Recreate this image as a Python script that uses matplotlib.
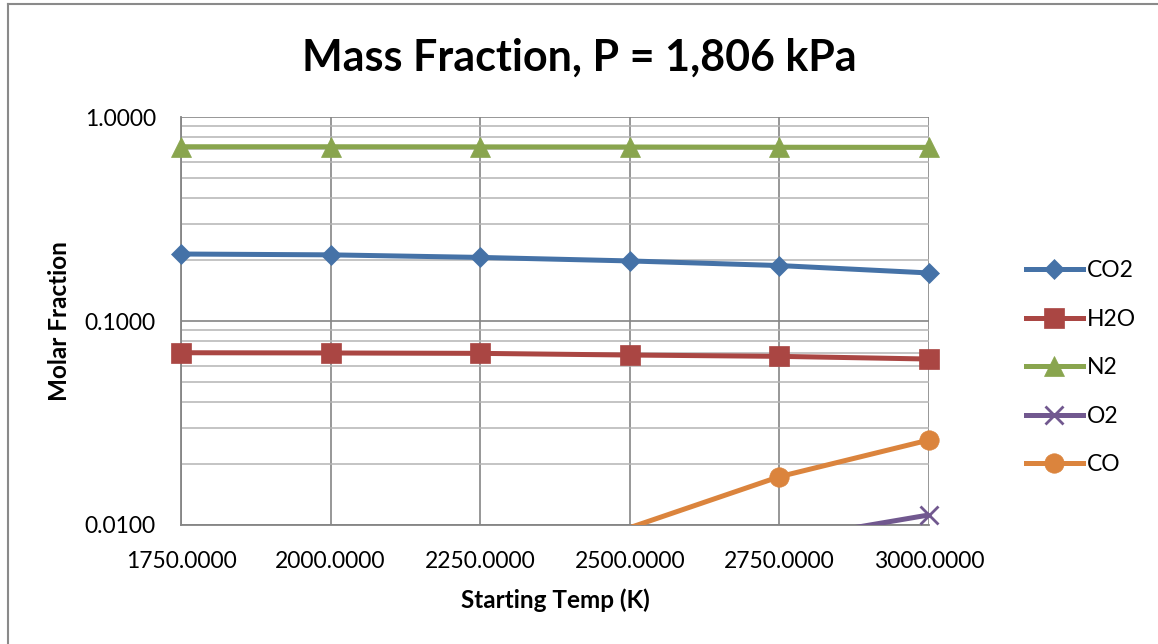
import numpy as np
import matplotlib
matplotlib.use("Agg")
import matplotlib.pyplot as plt
from matplotlib.lines import Line2D
from matplotlib.ticker import FixedLocator, LogLocator, NullFormatter

plt.rcParams['font.family'] = ['Lato', 'DejaVu Sans']

############################################################
#  data
############################################################
temps = [1750, 2000, 2250, 2500, 2750, 3000]
tick_labels = ["1750.0000", "2000.0000", "2250.0000", "2500.0000", "2750.0000", "3000.0000"]

co2 = [0.213, 0.211, 0.205, 0.197, 0.187, 0.172]
h2o = [0.0699, 0.0697, 0.0694, 0.0681, 0.0671, 0.0651]
n2 = [0.715, 0.715, 0.714, 0.713, 0.711, 0.710]
o2 = [0.0003, 0.0008, 0.0018, 0.0040, 0.0084, 0.0112]
co = [0.0012, 0.0027, 0.0055, 0.0097, 0.01725, 0.0261]

series_names = ["CO2", "H2O", "N2", "O2", "CO"]

#########################
# styles
#########################
colors = ["#4572A7", "#AA4643", "#89A54E", "#71588F", "#DB843D"]
markers = ["D", "s", "^", "x", "o"]
msizes = [10, 14, 14, 13, 14]

fig = plt.figure(figsize=(11.58, 6.44), dpi=100)
ax = fig.add_axes([0.1563, 0.1848, 0.8022 - 0.1563, 0.8183 - 0.1848])

ymin, ymax = 0.01, 1.0
handles = []
for name, vals, c, m, ms in zip(series_names, [co2, h2o, n2, o2, co], colors, markers, msizes):
    visible = [bool(ymin * 0.999 <= v <= ymax) for v in vals]
    mew = 2 if m == "x" else 0.5
    # line clipped to the plot area, markers only where the point is inside
    ax.plot(temps, vals, color=c, lw=3.6, zorder=3, clip_on=True)
    ax.plot(temps, vals, color=c, lw=0, marker=m, ms=ms, mew=mew,
            mec=c, mfc=c, markevery=visible, zorder=4, clip_on=False)
    handles.append(Line2D([], [], color=c, lw=3.6, marker=m, ms=ms, mew=mew, mec=c, mfc=c))

ax.set_yscale("log")
ax.set_ylim(ymin, ymax)
ax.set_xlim(temps[0], temps[-1])

ax.yaxis.set_major_locator(FixedLocator([0.01, 0.1, 1.0]))
ax.set_yticklabels(["0.0100", "0.1000", "1.0000"])
ax.yaxis.set_minor_locator(LogLocator(base=10, subs=np.arange(2, 10)))
ax.yaxis.set_minor_formatter(NullFormatter())
ax.set_xticks(temps)
ax.set_xticklabels(tick_labels)

ax.grid(True, which="major", axis="both", color="#858585", lw=1.2, zorder=1)
ax.grid(True, which="minor", axis="y", color="#b4b4b4", lw=1.1, zorder=1)
ax.tick_params(axis="both", which="both", length=0, labelsize=16.5, colors="black")
ax.tick_params(axis="x", pad=19)
ax.tick_params(axis="y", pad=18)

for s in ["top", "right"]:
    ax.spines[s].set_visible(False)
for s in ["left", "bottom"]:
    ax.spines[s].set_color("#858585")
    ax.spines[s].set_linewidth(1.3)

ax.set_xlabel("Starting Temp (K)", fontsize=17.5, fontweight="bold", labelpad=11.5)
ax.set_ylabel("Molar Fraction", fontsize=17.5, fontweight="bold", labelpad=10)
fig.suptitle("Mass Fraction, P = 1,806 kPa", fontsize=31, fontweight="bold", y=0.942)

fig.legend(handles, series_names, loc="upper left", bbox_to_anchor=(0.868, 0.628),
           frameon=False, fontsize=16.5, handlelength=2.5, labelspacing=1.2, handletextpad=0.15)

# chart area border (left and top only visible)
fig.add_artist(Line2D([8 / 1158, 8 / 1158], [0, 1 - 4 / 644], color="#8a8a8a", lw=1.5, transform=fig.transFigure))
fig.add_artist(Line2D([8 / 1158, 1], [1 - 4 / 644, 1 - 4 / 644], color="#8a8a8a", lw=1.5, transform=fig.transFigure))

fig.savefig("out.png", dpi=100, facecolor="white")
